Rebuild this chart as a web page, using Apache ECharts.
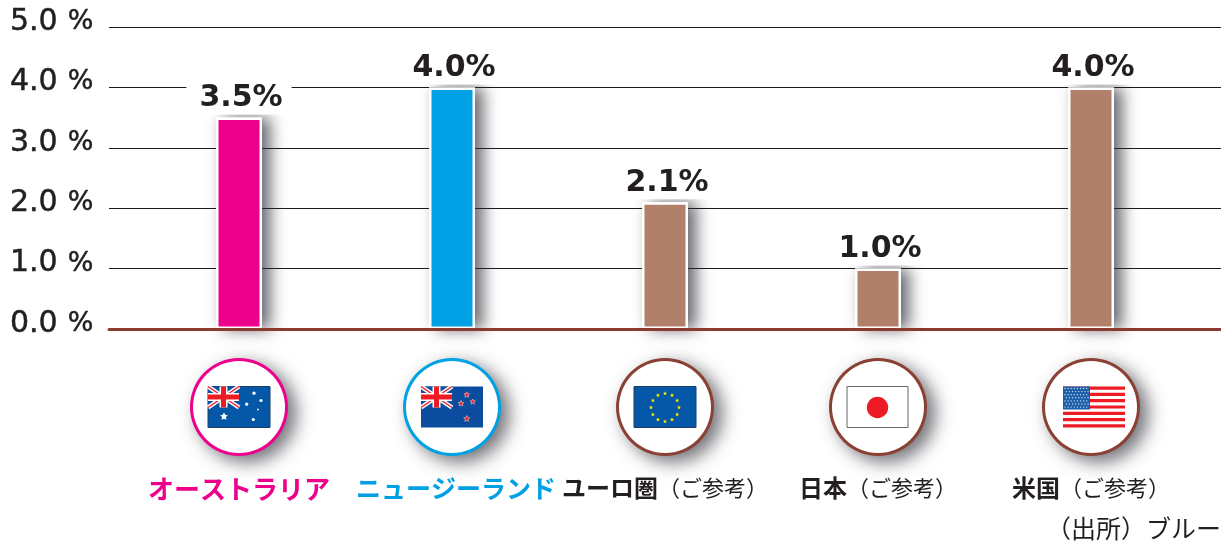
<!DOCTYPE html>
<html>
<head>
<meta charset="utf-8">
<style>
  html, body { margin: 0; padding: 0; background: #fff; overflow: hidden; }
  #chart { width: 1221px; height: 545px; }
</style>
<script src="https://cdn.jsdelivr.net/npm/echarts@6/dist/echarts.min.js"></script>
</head>
<body>
<div id="chart"></div>
<script>
// chart values
var categories = ['オーストラリア', 'ニュージーランド', 'ユーロ圏', '日本', '米国'];
var categoryNotes = ['', '', '（ご参考）', '（ご参考）', '（ご参考）'];
var rates = [3.5, 4.0, 2.1, 1.0, 4.0];
var yTicks = [0, 1, 2, 3, 4, 5];
var flagCodes = ['au', 'nz', 'eu', 'jp', 'us'];
var sourceNote = '（出所）ブルー';

// styles
var barColors = ['#ec008c', '#00a0e4', '#b0806a', '#b0806a', '#b0806a'];
var ringColors = ['#ec008c', '#00a0e4', '#8a4033', '#8a4033', '#8a4033'];
var labelStyles = ['pink', 'blue', 'dark', 'dark', 'dark'];
var jpFont = '"Noto Sans CJK JP", sans-serif';
var numFont = '"DejaVu Sans", sans-serif';
var textColor = '#231f20';

var FLAG_W = 62;
var FLAG_H = 41;

function rect(x, y, w, h, fill, stroke) {
  return { type: 'rect', shape: { x: x, y: y, width: w, height: h },
    style: { fill: fill, stroke: stroke || null, lineWidth: stroke ? 1 : 0 } };
}
function line(x1, y1, x2, y2, color, w) {
  return { type: 'line', shape: { x1: x1, y1: y1, x2: x2, y2: y2 },
    style: { stroke: color, lineWidth: w } };
}
function dot(cx, cy, r, color) {
  return { type: 'circle', shape: { cx: cx, cy: cy, r: r }, style: { fill: color } };
}
function star(cx, cy, r, fill, stroke) {
  var pts = [];
  for (var i = 0; i < 10; i++) {
    var a = -Math.PI / 2 + i * Math.PI / 5;
    var rr = i % 2 ? r * 0.45 : r;
    pts.push([cx + rr * Math.cos(a), cy + rr * Math.sin(a)]);
  }
  return { type: 'polygon', shape: { points: pts },
    style: { fill: fill, stroke: stroke || null, lineWidth: stroke ? 0.7 : 0 } };
}
// イギリス国旗の部分 (AU, NZ共通)
function unionJack() {
  var w = 31, h = 21;
  return [
    rect(0, 0, w, h, '#0b4f9e'),
    line(0, 0, w, h, '#fff', 4.5),
    line(w, 0, 0, h, '#fff', 4.5),
    line(0, 0, w, h, '#ed1c24', 1.5),
    line(w, 0, 0, h, '#ed1c24', 1.5),
    rect(w / 2 - 4, 0, 8, h, '#fff'),
    rect(0, h / 2 - 4, w, 8, '#fff'),
    rect(w / 2 - 2.5, 0, 5, h, '#ed1c24'),
    rect(0, h / 2 - 2.5, w, 5, '#ed1c24')
  ];
}
function flagShapes(code) {
  var out = [];
  if (code === 'au') {
    out.push(rect(0, 0, FLAG_W, FLAG_H, '#0558a8', '#1c3f66'));
    out = out.concat(unionJack());
    out.push(dot(46, 6.7, 1.6, '#fff'), dot(53, 14, 1.6, '#fff'), dot(38.7, 17.7, 1.6, '#fff'),
      dot(50, 23, 0.9, '#fff'), dot(45.3, 33, 1.6, '#fff'), star(16, 30, 4.2, '#fff'), dot(16, 30, 2.2, '#fff'));
  } else if (code === 'nz') {
    out.push(rect(0, 0, FLAG_W, FLAG_H, '#0b4c9f'));
    out = out.concat(unionJack());
    out.push(star(45.7, 8.3, 3, '#ed1c24', '#f6b5b5'), star(40, 17, 3, '#ed1c24', '#f6b5b5'),
      star(51.7, 15.3, 2.8, '#ed1c24', '#f6b5b5'), star(45.7, 32.3, 3.2, '#ed1c24', '#f6b5b5'));
  } else if (code === 'eu') {
    out.push(rect(0, 0, FLAG_W, FLAG_H, '#0558a8', '#1c3f66'));
    for (var i = 0; i < 12; i++) {
      var a = i * Math.PI / 6;
      out.push(star(31 + 14 * Math.sin(a), 21 - 14 * Math.cos(a), 2.2, '#ffe600'));
    }
  } else if (code === 'jp') {
    out.push(rect(0, 0, FLAG_W - 1, FLAG_H, '#fff', '#666'));
    out.push(dot(30.5, 21, 10.7, '#ed1c24'));
  } else if (code === 'us') {
    // 元画像では米国旗だけ少し右寄り
    out.push(rect(3, 0, FLAG_W, FLAG_H, '#fff'));
    for (var s = 0; s < 13; s += 2) {
      out.push(rect(3, s * FLAG_H / 13, FLAG_W, FLAG_H / 13, '#ed1c24'));
    }
    out.push(rect(3, 0, 27, 23, '#1c5fa8'));
    for (var r = 0; r < 7; r++) {
      for (var c = 0; c < 8; c++) {
        out.push(dot(5 + c * 3.1 + (r % 2 ? 1.4 : 0), 2 + r * 3.1, 0.7, '#cfe0f2'));
      }
    }
  }
  return out;
}

var chart = echarts.init(document.getElementById('chart'), null, { renderer: 'canvas' });

var option = {
  animation: false,
  backgroundColor: '#fff',
  grid: [
    // 目盛り用 (横幅いっぱい)
    { left: 109, right: 0, top: 27, height: 302 },
    // 棒グラフ用
    { left: 132.5, width: 1065, top: 27, height: 302 },
    // 国旗とラベル用
    { left: 132.5, width: 1065, top: 358, height: 98 }
  ],
  xAxis: [
    {
      gridIndex: 0, type: 'value', min: 0, max: 1, z: 6,
      axisLine: { show: true, onZero: true, lineStyle: { color: '#8a3b2e', width: 3 } },
      axisTick: { show: false }, axisLabel: { show: false }, splitLine: { show: false }
    },
    {
      gridIndex: 1, type: 'category', data: categories,
      axisLine: { show: false }, axisTick: { show: false }, axisLabel: { show: false }
    },
    {
      gridIndex: 2, type: 'category', data: categories,
      axisLine: { show: false }, axisTick: { show: false },
      axisLabel: {
        interval: 0, margin: 20,
        formatter: function (value, index) {
          var s = '{' + labelStyles[index] + '|' + value + '}';
          if (categoryNotes[index]) s += '{note|' + categoryNotes[index] + '}';
          return s;
        },
        rich: {
          pink: { color: '#ec008c', fontFamily: jpFont, fontWeight: 'bold', fontSize: 26 },
          blue: { color: '#00a0e4', fontFamily: jpFont, fontWeight: 'bold', fontSize: 25, padding: [0, 0, 0, 8] },
          dark: { color: textColor, fontFamily: jpFont, fontWeight: 'bold', fontSize: 24 },
          note: { color: textColor, fontFamily: jpFont, fontSize: 22 }
        }
      }
    },
    // 影用の棒の2本目の軸
    {
      gridIndex: 1, type: 'category', data: categories, position: 'top',
      axisLine: { show: false }, axisTick: { show: false }, axisLabel: { show: false }
    }
  ],
  yAxis: [
    {
      gridIndex: 0, type: 'value', min: yTicks[0], max: yTicks[yTicks.length - 1], interval: 1,
      axisLine: { show: false }, axisTick: { show: false },
      splitLine: { lineStyle: { color: '#1a1a1a', width: 1 } },
      axisLabel: {
        align: 'left', margin: 99, padding: [0, 0, 10, 0],
        formatter: function (v) { return '{n|' + v.toFixed(1) + '}{p|%}'; },
        rich: {
          n: { color: textColor, fontFamily: numFont, fontSize: 30, textBorderColor: textColor, textBorderWidth: 0.5 },
          p: { color: textColor, fontFamily: numFont, fontSize: 27, padding: [0, 0, 0, 10], textBorderColor: textColor, textBorderWidth: 0.5 }
        }
      }
    },
    { gridIndex: 1, type: 'value', min: 0, max: 5, show: false },
    { gridIndex: 2, type: 'value', min: 0, max: 1, show: false }
  ],
  series: [
    {
      // 影だけの棒
      type: 'bar',
      xAxisIndex: 3,
      yAxisIndex: 1,
      barWidth: 46,
      z: 2,
      silent: true,
      data: rates,
      itemStyle: {
        color: '#fff',
        shadowColor: 'rgba(50,50,60,0.75)',
        shadowBlur: 16,
        shadowOffsetX: 8,
        shadowOffsetY: 0
      }
    },
    {
      type: 'bar',
      xAxisIndex: 1,
      yAxisIndex: 1,
      barWidth: 46,
      z: 3,
      data: rates,
      itemStyle: {
        color: function (p) { return barColors[p.dataIndex]; },
        borderColor: '#fff',
        borderWidth: 2.5
      },
      label: {
        show: true,
        position: 'top',
        distance: 3,
        padding: [1, 9, 1, 13],
        backgroundColor: '#fff',
        fontFamily: numFont,
        fontWeight: 'bold',
        fontSize: 30,
        color: textColor,
        formatter: function (p) { return p.value.toFixed(1) + '%'; }
      }
    },
    {
      // 色リング(影つき)
      type: 'scatter',
      xAxisIndex: 2,
      yAxisIndex: 2,
      symbol: 'circle',
      symbolSize: 98,
      z: 3,
      data: categories.map(function (name, i) {
        return {
          value: 0.5,
          itemStyle: { color: ringColors[i], opacity: 1 }
        };
      }),
      itemStyle: {
        shadowColor: 'rgba(50,50,60,0.7)',
        shadowBlur: 18,
        shadowOffsetX: 8,
        shadowOffsetY: 6
      }
    },
    {
      type: 'scatter',
      xAxisIndex: 2,
      yAxisIndex: 2,
      symbol: 'circle',
      symbolSize: 92,
      z: 4,
      data: categories.map(function () { return 0.5; }),
      itemStyle: { color: '#fff', opacity: 1 }
    },
    {
      type: 'custom',
      xAxisIndex: 2,
      yAxisIndex: 2,
      z: 5,
      data: flagCodes.map(function (code, i) { return [i, 0.5]; }),
      renderItem: function (params, api) {
        var pt = api.coord([api.value(0), api.value(1)]);
        return {
          type: 'group',
          x: pt[0] - FLAG_W / 2,
          y: pt[1] - FLAG_H / 2,
          children: flagShapes(flagCodes[params.dataIndex])
        };
      }
    }
  ],
  graphic: [
    {
      type: 'text',
      left: 1046,
      top: 516,
      style: { text: sourceNote, fontFamily: jpFont, fontSize: 25, fill: textColor }
    }
  ]
};

chart.setOption(option);
</script>
</body>
</html>
